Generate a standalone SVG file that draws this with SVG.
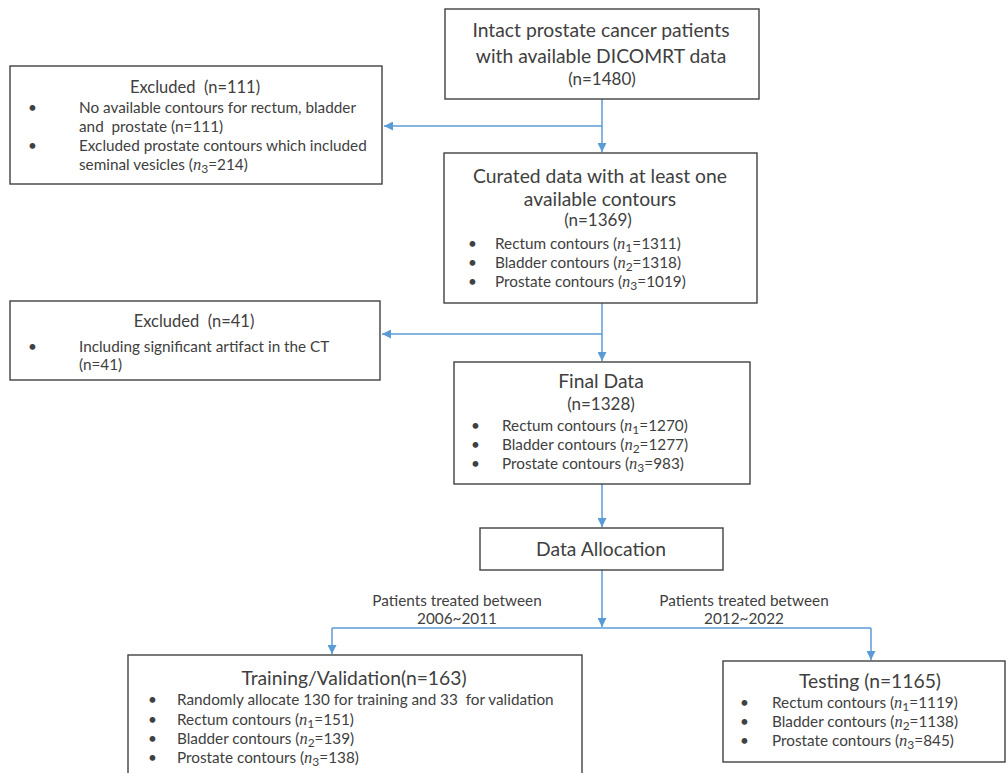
<svg xmlns="http://www.w3.org/2000/svg" width="1006" height="773" viewBox="0 0 1006 773">
<style>
.box{fill:#fff;stroke:#404040;stroke-width:1.4}
text{font-family:Lato,"Open Sans","Liberation Sans",sans-serif;fill:#404040;white-space:pre}
.t{font-size:19.3px;text-anchor:middle}
.tn{font-size:17px;text-anchor:middle}
.te{font-size:16.5px;text-anchor:middle}
.s{font-size:15.3px}
.lbl{font-size:15.3px;text-anchor:middle}
.m{font-family:"Liberation Serif",serif;font-style:italic;font-size:16.5px}
.sub{font-size:12px}
.con{fill:none;stroke:#5B9BD5;stroke-width:1.5}
</style>
<defs>
<marker id="ah" viewBox="0 0 10 10" refX="10" refY="5" markerWidth="9" markerHeight="9" markerUnits="userSpaceOnUse" orient="auto"><path d="M0,0L10,5L0,10z" fill="#5B9BD5"/></marker>
</defs>
<g id="connectors">
<path class="con" d="M602,99V152" marker-end="url(#ah)"/>
<path class="con" d="M602,126H384" marker-end="url(#ah)"/>
<path class="con" d="M602,303V361" marker-end="url(#ah)"/>
<path class="con" d="M602,334H382" marker-end="url(#ah)"/>
<path class="con" d="M602,484V527" marker-end="url(#ah)"/>
<path class="con" d="M602,570V627" marker-end="url(#ah)"/>
<path class="con" d="M332,628H871"/>
<path class="con" d="M332,628V654" marker-end="url(#ah)"/>
<path class="con" d="M871,628V660" marker-end="url(#ah)"/>
<text class="lbl" x="457" y="606">Patients treated between</text>
<text class="lbl" x="457" y="624">2006~2011</text>
<text class="lbl" x="744" y="606">Patients treated between</text>
<text class="lbl" x="744" y="624">2012~2022</text>
</g>
<g id="n1">
<rect class="box" x="445" y="9" width="314" height="90"/>
<text class="t" x="601" y="37">Intact prostate cancer patients</text>
<text class="t" x="601" y="63">with available DICOMRT data</text>
<text class="tn" x="602" y="85">(n=1480)</text>
</g>
<g id="ex1">
<rect class="box" x="10" y="66" width="372" height="118"/>
<text class="te" x="195" y="93">Excluded  (n=111)</text>
<text class="s" x="28" y="113">•</text>
<text class="s" x="79" y="113">No available contours for rectum, bladder</text>
<text class="s" x="79" y="132">and  prostate (n=111)</text>
<text class="s" x="28" y="151">•</text>
<text class="s" x="79" y="151">Excluded prostate contours which included</text>
<text class="s" x="79" y="170">seminal vesicles (<tspan class="m">n</tspan><tspan class="sub" dy="3">3</tspan><tspan dy="-3">=214)</tspan></text>
</g>
<g id="n2">
<rect class="box" x="444" y="153" width="313" height="150"/>
<text class="t" x="600" y="183">Curated data with at least one</text>
<text class="t" x="600" y="206">available contours</text>
<text class="tn" x="598" y="226">(n=1369)</text>
<text class="s" x="468" y="249">•</text>
<text class="s" x="495" y="249">Rectum contours (<tspan class="m">n</tspan><tspan class="sub" dy="3">1</tspan><tspan dy="-3">=1311)</tspan></text>
<text class="s" x="468" y="268">•</text>
<text class="s" x="495" y="268">Bladder contours (<tspan class="m">n</tspan><tspan class="sub" dy="3">2</tspan><tspan dy="-3">=1318)</tspan></text>
<text class="s" x="468" y="287">•</text>
<text class="s" x="495" y="287">Prostate contours (<tspan class="m">n</tspan><tspan class="sub" dy="3">3</tspan><tspan dy="-3">=1019)</tspan></text>
</g>
<g id="ex2">
<rect class="box" x="10" y="301" width="370" height="79"/>
<text class="te" x="194" y="327">Excluded  (n=41)</text>
<text class="s" x="28" y="352">•</text>
<text class="s" x="79" y="352">Including significant artifact in the CT</text>
<text class="s" x="79" y="370">(n=41)</text>
</g>
<g id="n3">
<rect class="box" x="454" y="362" width="296" height="122"/>
<text class="t" x="601" y="388">Final Data</text>
<text class="tn" x="601" y="410">(n=1328)</text>
<text class="s" x="471" y="431">•</text>
<text class="s" x="502" y="431">Rectum contours (<tspan class="m">n</tspan><tspan class="sub" dy="3">1</tspan><tspan dy="-3">=1270)</tspan></text>
<text class="s" x="471" y="450">•</text>
<text class="s" x="502" y="450">Bladder contours (<tspan class="m">n</tspan><tspan class="sub" dy="3">2</tspan><tspan dy="-3">=1277)</tspan></text>
<text class="s" x="471" y="469">•</text>
<text class="s" x="502" y="469">Prostate contours (<tspan class="m">n</tspan><tspan class="sub" dy="3">3</tspan><tspan dy="-3">=983)</tspan></text>
</g>
<g id="n4">
<rect class="box" x="480" y="528" width="243" height="42"/>
<text class="t" x="601" y="556">Data Allocation</text>
</g>
<g id="n5">
<rect class="box" x="128" y="655" width="454" height="130"/>
<text class="t" x="354" y="685">Training/Validation(n=163)</text>
<text class="s" x="148" y="705">•</text>
<text class="s" x="177" y="705">Randomly allocate 130 for training and 33  for validation</text>
<text class="s" x="148" y="725">•</text>
<text class="s" x="177" y="725">Rectum contours (<tspan class="m">n</tspan><tspan class="sub" dy="3">1</tspan><tspan dy="-3">=151)</tspan></text>
<text class="s" x="148" y="744">•</text>
<text class="s" x="177" y="744">Bladder contours (<tspan class="m">n</tspan><tspan class="sub" dy="3">2</tspan><tspan dy="-3">=139)</tspan></text>
<text class="s" x="148" y="763">•</text>
<text class="s" x="177" y="763">Prostate contours (<tspan class="m">n</tspan><tspan class="sub" dy="3">3</tspan><tspan dy="-3">=138)</tspan></text>
</g>
<g id="n6">
<rect class="box" x="723" y="661" width="282" height="101"/>
<text class="t" x="870" y="688">Testing (n=1165)</text>
<text class="s" x="740" y="708">•</text>
<text class="s" x="772" y="708">Rectum contours (<tspan class="m">n</tspan><tspan class="sub" dy="3">1</tspan><tspan dy="-3">=1119)</tspan></text>
<text class="s" x="740" y="727">•</text>
<text class="s" x="772" y="727">Bladder contours (<tspan class="m">n</tspan><tspan class="sub" dy="3">2</tspan><tspan dy="-3">=1138)</tspan></text>
<text class="s" x="740" y="746">•</text>
<text class="s" x="772" y="746">Prostate contours (<tspan class="m">n</tspan><tspan class="sub" dy="3">3</tspan><tspan dy="-3">=845)</tspan></text>
</g>
</svg>
